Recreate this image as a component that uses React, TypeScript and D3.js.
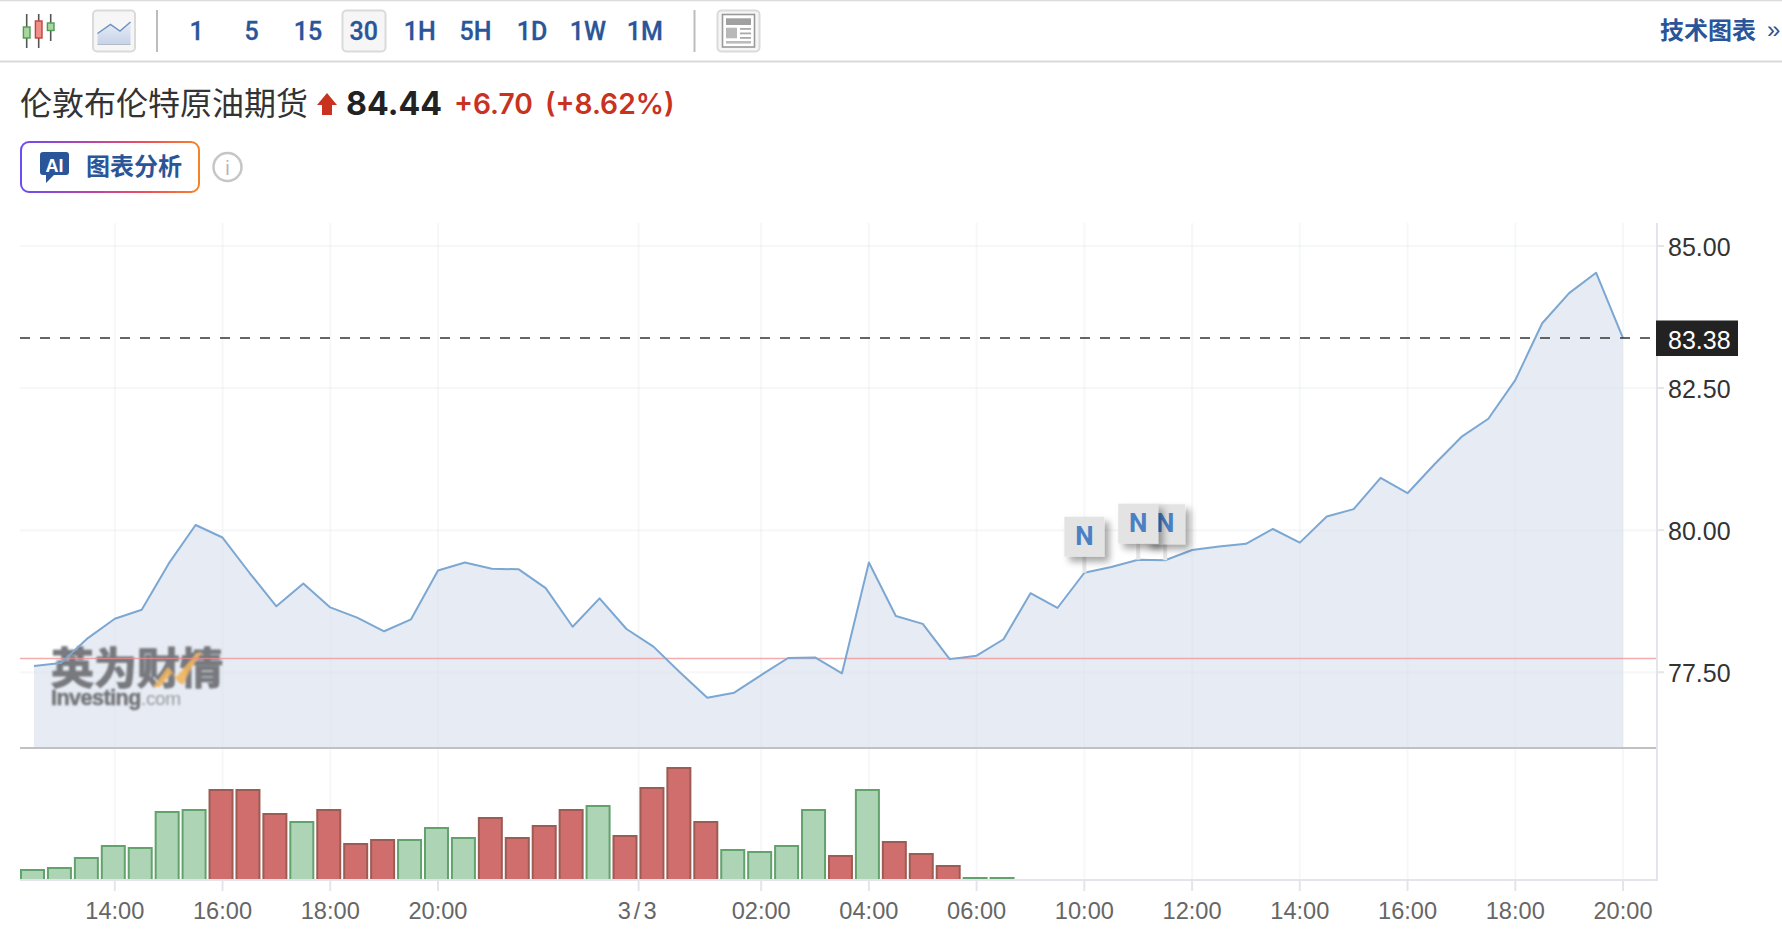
import React, { useEffect, useRef } from 'react';
import * as d3 from 'd3';

// 30 minute closes, 12:30 to 20:00 the next day
const prices = [
  77.61, 77.66, 78.10, 78.44, 78.60, 79.41, 80.09, 79.87, 79.25, 78.66,
  79.06, 78.64, 78.46, 78.22, 78.43, 79.29, 79.43, 79.32, 79.31, 78.98,
  78.30, 78.80, 78.26, 77.95, 77.49, 77.05, 77.14, 77.45, 77.75, 77.76,
  77.48, 79.43, 78.49, 78.35, 77.73, 77.79, 78.08, 78.89, 78.63, 79.25,
  79.35, 79.48, 79.47, 79.65, 79.71, 79.76, 80.02, 79.78, 80.24, 80.37,
  80.92, 80.65, 81.16, 81.64, 81.96, 82.64, 83.64, 84.17, 84.53, 83.38,
];
const volumes = [
  10, 12, 22, 34, 32, 68, 70, 90, 90, 66, 58, 70, 36, 40, 40, 52, 42, 62, 42,
  54, 70, 74, 44, 92, 112, 58, 30, 28, 34, 70, 24, 90, 38, 26, 14, 2, 2,
];
const volumeUp = [
  1, 1, 1, 1, 1, 1, 1, 0, 0, 0, 1, 0, 0, 0, 1, 1, 1, 0, 0,
  0, 0, 1, 0, 0, 0, 0, 1, 1, 1, 1, 0, 1, 0, 0, 0, 1, 1,
];
const xTickIndex = [3, 7, 11, 15, 22.45, 27, 31, 35, 39, 43, 47, 51, 55, 59];
const xTickLabels = ['14:00', '16:00', '18:00', '20:00', '3/3', '02:00', '04:00', '06:00', '10:00', '12:00', '14:00', '16:00', '18:00', '20:00'];
const yTicks = [85, 82.5, 80, 77.5];
const newsIndex = [42, 39, 41];
const intervals = ['1', '5', '15', '30', '1H', '5H', '1D', '1W', '1M'];
const intervalX = [196.6, 251.5, 308, 363.7, 419.8, 475.5, 532, 587.8, 644.8];
const lastPrice = 83.38;
const prevClose = 77.74;

const W = 1782;
const H = 932;
const left = 20;
const axisX = 1657;
const paneTop = 223;
const paneBottom = 748;
const volBottom = 880;
const sans = '"Liberation Sans", Arial, sans-serif';
const cjk = '"Noto Sans CJK SC", sans-serif';
const ui = 'Inter, "Noto Sans CJK SC", sans-serif';
const blue = '#2a5599';

const App = () => {
  const svgRef = useRef<SVGSVGElement>(null);

  useEffect(() => {
    if (!svgRef.current) return;
    const svg = d3.select(svgRef.current);
    svg.selectAll('*').remove();

    const x = d3.scaleLinear().domain([0, prices.length - 1]).range([34, 1623]);
    const y = d3.scaleLinear().domain([77.5, 85]).range([672.2, 246]);
    const yVol = d3.scaleLinear().domain([0, 100]).range([volBottom, volBottom - 100]);

    const defs = svg.append('defs');
    const grad = defs.append('linearGradient').attr('id', 'aiBorder')
      .attr('gradientUnits', 'userSpaceOnUse')
      .attr('x1', left).attr('x2', 200).attr('y1', 167).attr('y2', 167);
    [['0%', '#6a4cf5'], ['40%', '#b845a8'], ['70%', '#ee4f5c'], ['100%', '#f58426']].forEach(([o, c]) =>
      grad.append('stop').attr('offset', o).attr('stop-color', c));
    const iconGrad = defs.append('linearGradient').attr('id', 'iconFill').attr('x1', 0).attr('x2', 0).attr('y1', 0).attr('y2', 1);
    iconGrad.append('stop').attr('offset', '0%').attr('stop-color', '#e9eef7');
    iconGrad.append('stop').attr('offset', '100%').attr('stop-color', '#c6d2e8');
    const shadow = defs.append('filter').attr('id', 'newsShadow').attr('x', '-30%').attr('y', '-30%').attr('width', '170%').attr('height', '170%');
    shadow.append('feDropShadow').attr('dx', 5).attr('dy', 5).attr('stdDeviation', 3.5).attr('flood-color', '#000').attr('flood-opacity', 0.35);
    defs.append('filter').attr('id', 'soft').append('feGaussianBlur').attr('stdDeviation', 0.8);
    defs.append('clipPath').attr('id', 'plotClip').append('rect')
      .attr('x', left).attr('y', paneTop).attr('width', axisX - left).attr('height', volBottom - paneTop);

    // toolbar
    svg.append('line').attr('x1', 0).attr('x2', W).attr('y1', 0.5).attr('y2', 0.5).attr('stroke', '#dcdcdc').attr('stroke-width', 1.5);
    svg.append('line').attr('x1', 0).attr('x2', W).attr('y1', 61.5).attr('y2', 61.5).attr('stroke', '#d9d9d9').attr('stroke-width', 2);

    const candles = [
      { cx: 26.7, top: 14, bottom: 48, y0: 27, y1: 38, fill: '#a9d6a0', stroke: '#4f9a55' },
      { cx: 38.7, top: 14, bottom: 48, y0: 21, y1: 38, fill: '#ef8f8a', stroke: '#c2443e' },
      { cx: 50.7, top: 14, bottom: 41, y0: 23, y1: 30.5, fill: '#a9d6a0', stroke: '#4f9a55' },
    ];
    candles.forEach(c => {
      svg.append('line').attr('x1', c.cx).attr('x2', c.cx).attr('y1', c.top).attr('y2', c.bottom).attr('stroke', '#555').attr('stroke-width', 1.6);
      svg.append('rect').attr('x', c.cx - 3.3).attr('y', c.y0).attr('width', 6.6).attr('height', c.y1 - c.y0)
        .attr('fill', c.fill).attr('stroke', c.stroke).attr('stroke-width', 1.4);
    });

    const button = (bx: number, bw: number) =>
      svg.append('rect').attr('x', bx).attr('y', 10.5).attr('width', bw).attr('height', 41).attr('rx', 4)
        .attr('fill', '#f6f6f6').attr('stroke', '#dadada').attr('stroke-width', 2);

    button(93, 42);
    svg.append('path').attr('d', 'M97.5,33.5L110.5,24.5L120,31L130.5,22V44.5H97.5Z').attr('fill', 'url(#iconFill)');
    svg.append('path').attr('d', 'M97.5,33.5L110.5,24.5L120,31L130.5,22').attr('fill', 'none').attr('stroke', '#6f93c4').attr('stroke-width', 1.5);
    svg.append('line').attr('x1', 97.5).attr('x2', 130.5).attr('y1', 44.5).attr('y2', 44.5).attr('stroke', '#b4bac8').attr('stroke-width', 1);

    button(342.5, 43);
    intervals.forEach((t, i) => {
      svg.append('text').attr('x', intervalX[i]).attr('y', 40).attr('text-anchor', 'middle')
        .attr('font-family', 'Roboto, sans-serif').attr('font-weight', 500).attr('font-size', 25)
        .attr('stroke', blue).attr('stroke-width', 0.3)
        .attr('fill', blue).text(t);
    });

    [157, 694.5].forEach(sx =>
      svg.append('line').attr('x1', sx).attr('x2', sx).attr('y1', 10).attr('y2', 52).attr('stroke', '#bdbdbd').attr('stroke-width', 2));

    button(717.5, 42);
    svg.append('rect').attr('x', 722.5).attr('y', 14.5).attr('width', 32).attr('height', 32.5).attr('fill', '#fff').attr('stroke', '#999').attr('stroke-width', 1.6);
    svg.append('rect').attr('x', 726).attr('y', 18.3).attr('width', 25).attr('height', 6.7).attr('fill', '#a0a0a0');
    svg.append('rect').attr('x', 726).attr('y', 27.7).attr('width', 11).attr('height', 10.6).attr('fill', '#b8b8b8');
    [28, 32.5, 37].forEach(ly =>
      svg.append('rect').attr('x', 740).attr('y', ly).attr('width', 11).attr('height', 1.8).attr('fill', '#aaa'));
    svg.append('rect').attr('x', 726).attr('y', 41).attr('width', 25).attr('height', 2.6).attr('fill', '#bbb');

    svg.append('text').attr('x', 1660).attr('y', 39).attr('font-family', cjk).attr('font-weight', 700).attr('font-size', 24).attr('fill', blue).text('技术图表');
    svg.append('text').attr('x', 1767).attr('y', 38).attr('font-family', sans).attr('font-size', 24).attr('fill', blue).text('»');

    // title row
    svg.append('text').attr('x', 20).attr('y', 115).attr('font-family', cjk).attr('font-size', 32).attr('fill', '#333').text('伦敦布伦特原油期货');
    svg.append('path').attr('d', 'M327,93L337,105H332V115H322V105H317Z').attr('fill', '#c8321f');
    svg.append('text').attr('x', 346).attr('y', 115).attr('font-family', ui).attr('font-weight', 700).attr('font-size', 32.2).attr('fill', '#222').text('84.44');
    svg.append('text').attr('x', 454).attr('y', 114).attr('font-family', ui).attr('font-weight', 600).attr('font-size', 28.2).attr('fill', '#c8321f').text('+6.70');
    svg.append('text').attr('x', 545).attr('y', 114).attr('font-family', ui).attr('font-weight', 600).attr('font-size', 28.2).attr('fill', '#c8321f').text('(+8.62%)');

    // AI button
    svg.append('rect').attr('x', 21).attr('y', 142).attr('width', 178).attr('height', 50).attr('rx', 8)
      .attr('fill', '#fff').attr('stroke', 'url(#aiBorder)').attr('stroke-width', 2);
    svg.append('path').attr('d', 'M43,152H66A3,3 0 0 1 69,155V172A3,3 0 0 1 66,175H54L46,183V175H43A3,3 0 0 1 40,172V155A3,3 0 0 1 43,152Z').attr('fill', blue);
    svg.append('text').attr('x', 54.5).attr('y', 172).attr('text-anchor', 'middle').attr('font-family', sans).attr('font-weight', 700).attr('font-size', 18).attr('fill', '#fff').text('AI');
    svg.append('text').attr('x', 86).attr('y', 175).attr('font-family', cjk).attr('font-weight', 700).attr('font-size', 24).attr('fill', blue).text('图表分析');
    svg.append('circle').attr('cx', 227.5).attr('cy', 167).attr('r', 14).attr('fill', 'none').attr('stroke', '#c6c6c6').attr('stroke-width', 2.5);
    svg.append('text').attr('x', 227.5).attr('y', 175).attr('text-anchor', 'middle').attr('font-family', sans).attr('font-size', 20).attr('fill', '#b5b5b5').text('i');

    // area and line
    const area = d3.area<number>().x((_, i) => x(i)).y0(paneBottom).y1(d => y(d));
    const line = d3.line<number>().x((_, i) => x(i)).y(d => y(d));
    svg.append('path').attr('d', area(prices)).attr('fill', '#e7ecf4');

    // grid over the fill
    const grid = svg.append('g').attr('stroke', '#dfe2ea').attr('stroke-opacity', 0.28).attr('stroke-width', 2);
    grid.selectAll('line.v').data(xTickIndex).enter().append('line')
      .attr('x1', d => x(d)).attr('x2', d => x(d)).attr('y1', paneTop).attr('y2', volBottom);
    grid.selectAll('line.h').data(yTicks).enter().append('line')
      .attr('x1', left).attr('x2', axisX).attr('y1', d => y(d)).attr('y2', d => y(d));

    // watermark
    const mark = svg.append('g').attr('filter', 'url(#soft)');
    mark.append('text').attr('x', 51).attr('y', 684).attr('font-family', cjk).attr('font-weight', 700).attr('font-size', 43)
      .attr('fill', '#727478').attr('stroke', '#727478').attr('stroke-width', 1.2).attr('fill-opacity', 0.95).text('英为财情');
    mark.append('path').attr('d', 'M153,687L168,667L176,677L197,653L202,652L190,670L183,685L178,682L172,673L160,687Z').attr('fill', '#f0b55e').attr('fill-opacity', 0.9);
    mark.append('text').attr('x', 51).attr('y', 705).attr('font-family', sans).attr('font-weight', 700).attr('font-size', 21.5)
      .attr('letter-spacing', -0.5).attr('stroke', '#727478').attr('stroke-width', 0.5).attr('fill', '#727478').text('Investing');
    mark.append('text').attr('x', 141).attr('y', 705).attr('font-family', sans).attr('font-size', 19)
      .attr('letter-spacing', -0.4).attr('fill', '#96999e').text('.com');

    svg.append('line').attr('x1', left).attr('x2', axisX).attr('y1', y(prevClose)).attr('y2', y(prevClose))
      .attr('stroke', '#f08a8a').attr('stroke-opacity', 0.7).attr('stroke-width', 1.5);
    svg.append('path').attr('d', line(prices)).attr('fill', 'none').attr('stroke', '#7ba7d2').attr('stroke-width', 2).attr('stroke-linejoin', 'round');

    // last price
    svg.append('line').attr('x1', left).attr('x2', axisX - 6).attr('y1', y(lastPrice)).attr('y2', y(lastPrice))
      .attr('stroke', '#333').attr('stroke-width', 1.6).attr('stroke-dasharray', '10 10');

    // news flags, the 11:30 one sits behind the 11:00 one
    newsIndex.forEach(d => {
      const cx = x(d);
      const ly = y(prices[d]);
      const flag = svg.append('g');
      flag.append('rect').attr('x', cx - 2).attr('y', ly - 17).attr('width', 4).attr('height', 17).attr('fill', '#e6e6e6');
      flag.append('rect').attr('x', cx - 20).attr('y', ly - 56).attr('width', 40).attr('height', 40)
        .attr('fill', '#e3e3e3').attr('filter', 'url(#newsShadow)');
      flag.append('text').attr('x', cx).attr('y', ly - 28).attr('text-anchor', 'middle')
        .attr('font-family', 'Roboto, sans-serif').attr('font-weight', 700).attr('font-size', 26).attr('fill', '#4a80c4').text('N');
    });

    // volume
    svg.append('g').attr('clip-path', 'url(#plotClip)')
      .selectAll('rect').data(volumes).enter().append('rect')
      .attr('x', (_, i) => x(i) - 13)
      .attr('y', d => yVol(d))
      .attr('width', 23)
      .attr('height', d => yVol(0) - yVol(d))
      .attr('fill', (_, i) => (volumeUp[i] ? '#aed4b6' : '#cf6e6c'))
      .attr('stroke', (_, i) => (volumeUp[i] ? '#62a26d' : '#9c5c54'))
      .attr('stroke-width', 2);

    // pane borders and axes
    svg.append('line').attr('x1', left).attr('x2', axisX).attr('y1', paneBottom).attr('y2', paneBottom).attr('stroke', '#bfc1c5').attr('stroke-width', 2);
    svg.append('line').attr('x1', left).attr('x2', axisX + 1).attr('y1', volBottom).attr('y2', volBottom).attr('stroke', '#e3e5ea').attr('stroke-width', 2);
    svg.append('line').attr('x1', axisX).attr('x2', axisX).attr('y1', paneTop).attr('y2', volBottom).attr('stroke', '#e3e5ea').attr('stroke-width', 2);

    const xAxis = svg.append('g');
    xTickIndex.forEach((d, i) => {
      xAxis.append('line').attr('x1', x(d)).attr('x2', x(d)).attr('y1', volBottom).attr('y2', volBottom + 11).attr('stroke', '#e3e5ea').attr('stroke-width', 2);
      xAxis.append('text').attr('x', x(d)).attr('y', 919).attr('text-anchor', 'middle')
        .attr('letter-spacing', xTickLabels[i].includes('/') ? 3 : 0)
        .attr('font-family', sans).attr('font-size', 23.6).attr('fill', '#666').text(xTickLabels[i]);
    });
    const yAxis = svg.append('g');
    yTicks.forEach(d => {
      yAxis.append('line').attr('x1', axisX).attr('x2', axisX + 7).attr('y1', y(d)).attr('y2', y(d)).attr('stroke', '#e3e5ea').attr('stroke-width', 2);
      yAxis.append('text').attr('x', 1668).attr('y', y(d) + 9.5).attr('font-family', sans).attr('font-size', 25).attr('fill', '#333').text(d3.format('.2f')(d));
    });

    svg.append('rect').attr('x', 1656).attr('y', 320.5).attr('width', 82).attr('height', 35.5).attr('fill', '#222');
    svg.append('text').attr('x', 1668).attr('y', 349).attr('font-family', sans).attr('font-size', 25).attr('fill', '#fff').text(d3.format('.2f')(lastPrice));
  }, []);

  return (
    <div style={{ position: 'absolute', left: 0, top: 0, background: '#fff' }}>
      <svg ref={svgRef} width={W} height={H} style={{ display: 'block' }}></svg>
    </div>
  );
};

export default App;
